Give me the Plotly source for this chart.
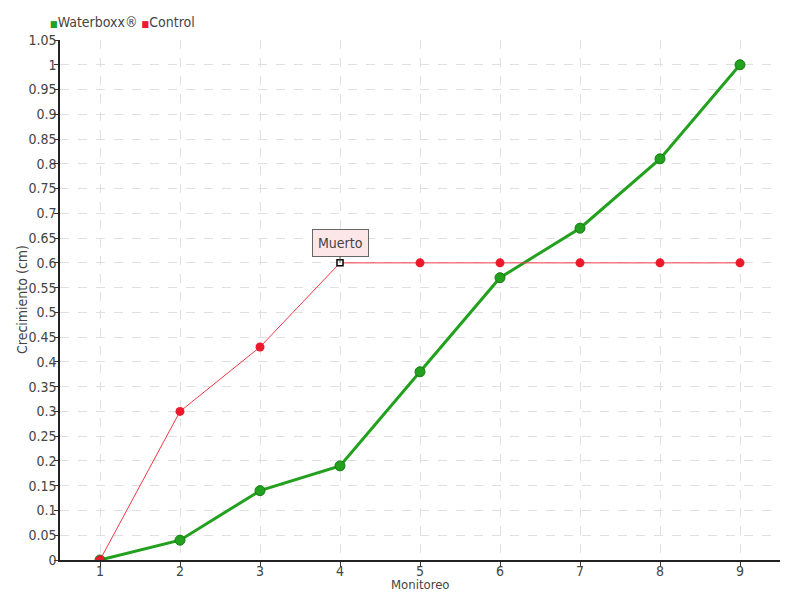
import plotly.graph_objects as go

monitoreo = [1, 2, 3, 4, 5, 6, 7, 8, 9]
waterboxx = [0, 0.04, 0.14, 0.19, 0.38, 0.57, 0.67, 0.81, 1.0]
control = [0, 0.30, 0.43, 0.60, 0.60, 0.60, 0.60, 0.60, 0.60]
ytick_vals = [round(i * 0.05, 2) for i in range(22)]
ytick_text = [("%g" % v) for v in ytick_vals]

font_family = "Liberation Sans Narrow, DejaVu Sans Condensed, DejaVu Sans, sans-serif"
GREEN = "#22a01e"
RED = "#ec1a2c"

fig = go.Figure()
fig.add_trace(go.Scatter(
    x=monitoreo, y=waterboxx, name="Waterboxx®", mode="lines+markers", showlegend=False,
    line=dict(color=GREEN, width=3),
    marker=dict(size=10, color=GREEN, line=dict(color="#157a12", width=1)),
))
ctrl_symbols = ["circle"] * len(monitoreo)
ctrl_colors = [RED] * len(monitoreo)
ctrl_sizes = [9] * len(monitoreo)
ctrl_symbols[3] = "square"
ctrl_colors[3] = "white"
ctrl_sizes[3] = 6
fig.add_trace(go.Scatter(
    x=monitoreo, y=control, name="Control", mode="lines+markers", showlegend=False,
    line=dict(color="#f03a48", width=1),
    marker=dict(size=ctrl_sizes, color=ctrl_colors, symbol=ctrl_symbols, opacity=1,
                line=dict(color=[RED] * 3 + ["black"] + [RED] * 5,
                          width=[0, 0, 0, 1.5, 0, 0, 0, 0, 0])),
))

fig.add_annotation(
    x=monitoreo[3], y=control[3], text="Muerto", showarrow=True,
    arrowhead=0, arrowwidth=1, arrowcolor="#555", ax=0, ay=-20,
    bgcolor="#fde6e8", bordercolor="#666", borderwidth=1, borderpad=5,
    font=dict(size=14, color="#444", family=font_family),
)

# legend drawn as text
fig.add_annotation(
    xref="paper", yref="paper", x=-0.016, y=1.0 + 18 / 520, xanchor="left", yanchor="middle",
    showarrow=False,
    text=(f"<span style='color:{GREEN};font-size:9px'>■</span>Waterboxx® "
          f"<span style='color:{RED};font-size:9px'>■</span>Control"),
    font=dict(size=14, color="#444", family=font_family),
)
# axis titles
fig.add_annotation(
    xref="paper", yref="paper", x=0.5, y=-24 / 520, xanchor="center", yanchor="middle",
    showarrow=False, text="Monitoreo", font=dict(size=13, color="#444", family=font_family),
)
fig.add_annotation(
    xref="paper", yref="paper", x=-38 / 720, y=0.5, xanchor="center", yanchor="middle",
    showarrow=False, textangle=-90, text="Crecimiento (cm)",
    font=dict(size=14, color="#444", family=font_family),
)

fig.update_layout(
    width=792, height=592,
    margin=dict(l=52, r=20, t=32, b=40, autoexpand=False),
    plot_bgcolor="white", paper_bgcolor="white",
    font=dict(family=font_family, size=14, color="#444"),
    showlegend=False,
    xaxis=dict(
        range=[0.5, 9.5], tickmode="array", tickvals=monitoreo, automargin=False,
        ticks="outside", ticklen=5, tickcolor="#333",
        showline=True, linecolor="#222", linewidth=1.5,
        showgrid=True, gridcolor="#e0e0e0", griddash="dash", zeroline=False,
    ),
    yaxis=dict(
        range=[0, 1.05], tickmode="array", tickvals=ytick_vals, ticktext=ytick_text,
        automargin=False,
        ticks="outside", ticklen=4, tickcolor="#333",
        showline=True, linecolor="#222", linewidth=1.5,
        showgrid=True, gridcolor="#e0e0e0", griddash="dash", zeroline=False,
    ),
)
try:
    fig.update_xaxes(ticklabelstandoff=-8)
    fig.update_yaxes(ticklabelstandoff=-5)
except Exception:
    fig.update_xaxes(ticklen=2)
    fig.update_yaxes(ticklen=2)

fig.write_html("out.html")
